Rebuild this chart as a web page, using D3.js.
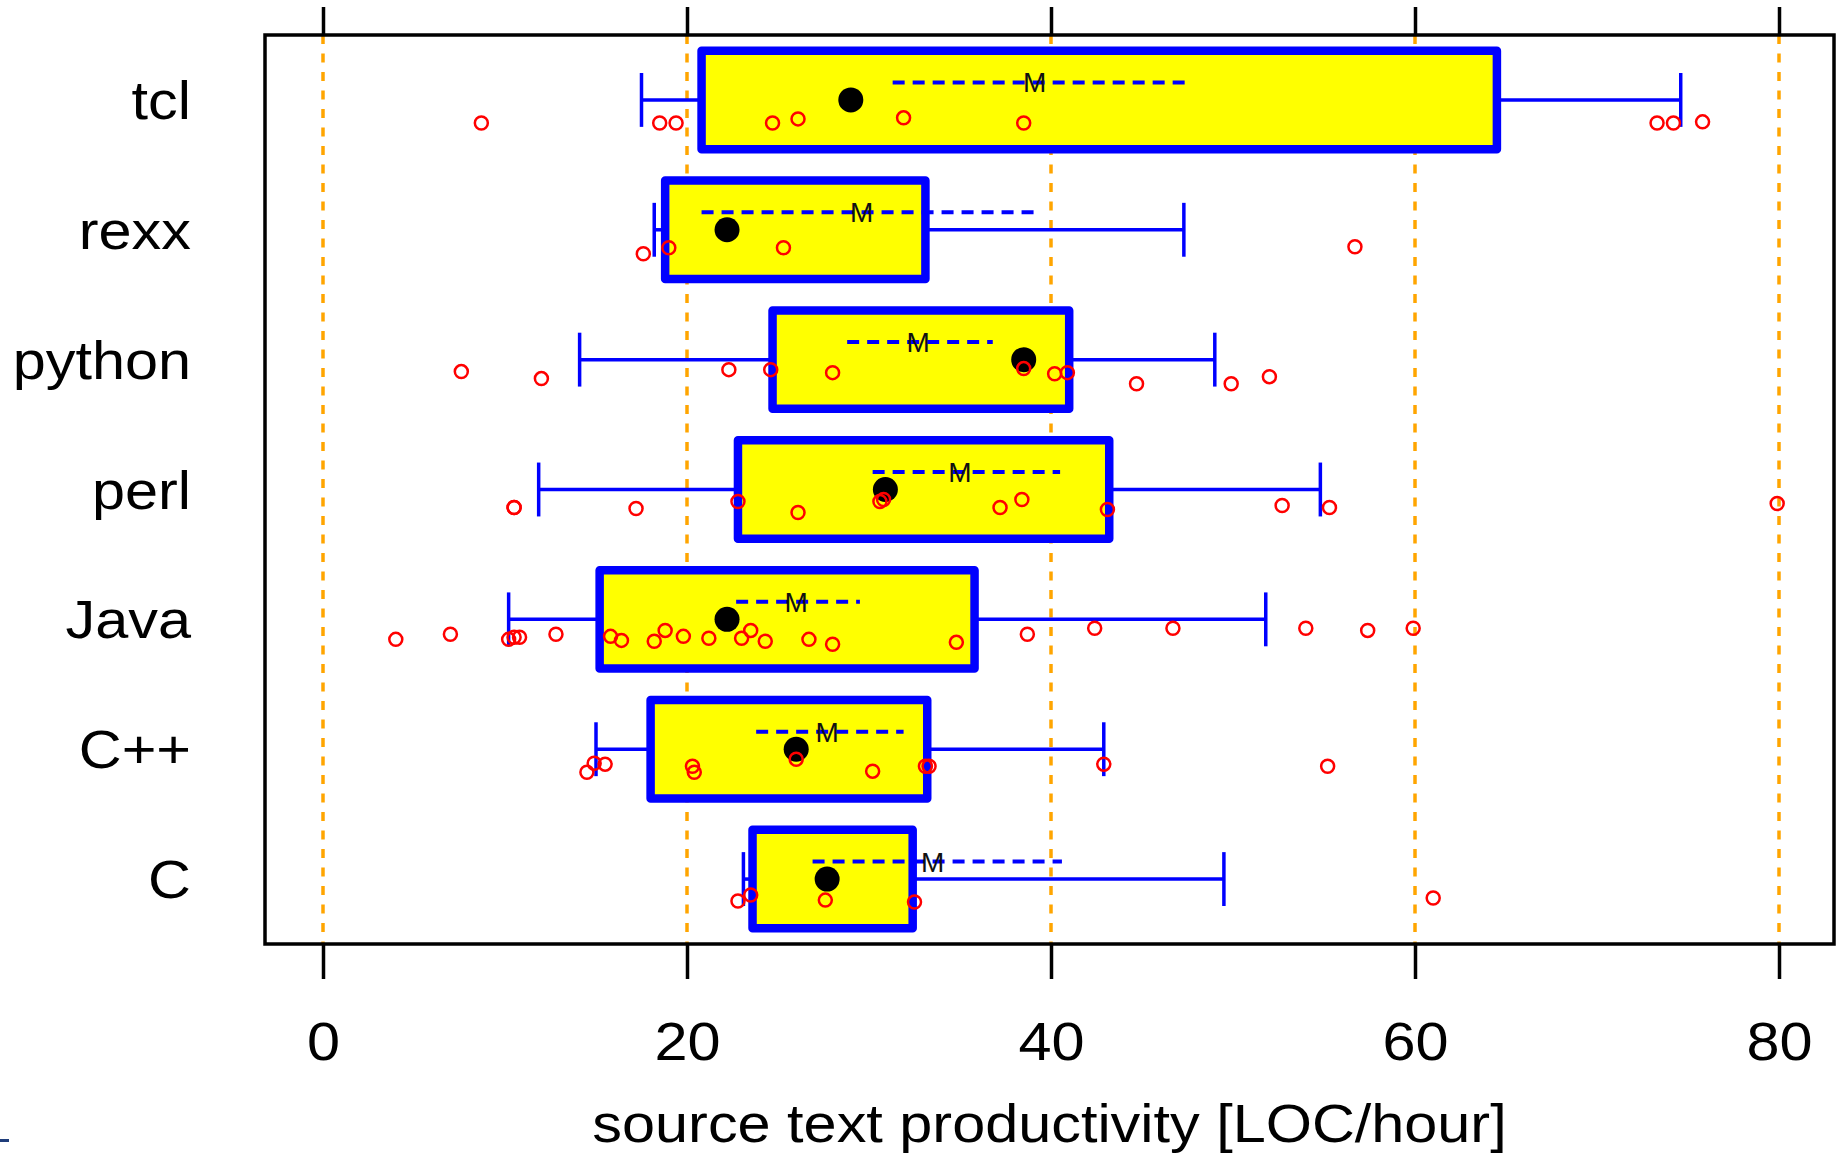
<!DOCTYPE html>
<html>
<head>
<meta charset="utf-8">
<script src="https://cdn.jsdelivr.net/npm/d3@7"></script>
<style>
    html, body { margin: 0; padding: 0; background: #fff; }
    svg { display: block; }
</style>
</head>
<body>
<svg id="chart"></svg>
<script>
/**
 * Data.
 */
const categories = ['tcl', 'rexx', 'python', 'perl', 'Java', 'C++', 'C'];

const lowerWhisker = [17.5, 18.2, 14.1, 11.85, 10.2, 15.0, 23.1];
const lowerHinge   = [20.8, 18.8, 24.7, 22.8, 15.2, 18.0, 23.6];
const medians      = [29.0, 22.2, 38.5, 30.9, 22.2, 26.0, 27.7];
const upperHinge   = [64.5, 33.1, 41.0, 43.2, 35.8, 33.2, 32.4];
const upperWhisker = [74.6, 47.3, 49.0, 54.8, 51.8, 42.9, 49.5];

// Mean ('M') and the dashed band around it
const means    = [39.1, 29.6, 32.7, 35.0, 26.0, 27.7, 33.5];
const meanLow  = [31.3, 20.8, 28.8, 30.2, 22.7, 23.8, 26.9];
const meanHigh = [47.4, 39.1, 36.8, 40.5, 29.5, 31.9, 40.6];

// Individual observations per category
const observations = [
    [8.7, 18.5, 19.4, 24.7, 26.1, 31.9, 38.5, 73.3, 74.2, 75.8],
    [17.6, 19.0, 25.3, 56.7],
    [7.6, 12.0, 22.3, 24.6, 28.0, 38.5, 40.2, 40.9, 44.7, 49.9, 52.0],
    [10.5, 10.5, 17.2, 22.8, 26.1, 30.6, 30.8, 37.2, 38.4, 43.1, 52.7, 55.3, 79.9],
    [4.0, 7.0, 10.2, 10.5, 10.8, 12.8, 15.8, 16.4, 18.2, 18.8, 19.8, 21.2, 23.0, 23.5, 24.3, 26.7,
        28.0, 34.8, 38.7, 42.4, 46.7, 54.0, 57.4, 59.9],
    [14.5, 14.9, 15.5, 20.3, 20.4, 26.0, 30.2, 33.1, 33.3, 42.9, 55.2],
    [22.8, 23.5, 27.6, 32.5, 61.0]
];

// Vertical jitter of each observation, in row units
const jitter = [
    [.177, .177, .177, .177, .146, .138, .177, .177, .177, .169],
    [.185, .138, .138, .131],
    [.092, .146, .077, .077, .1, .069, .108, .1, .185, .185, .131],
    [.138, .138, .146, .092, .177, .092, .077, .138, .077, .154, .123, .138, .108],
    [.154, .115, .154, .138, .138, .115, .131, .162, .169, .085, .131, .146, .146, .085, .169, .154,
        .192, .177, .115, .069, .069, .069, .085, .069],
    [.177, .108, .115, .131, .177, .077, .169, .131, .131, .115, .131],
    [.169, .123, .162, .177, .146]
];

const xTicks = [0, 20, 40, 60, 80];
const xTitle = 'source text productivity [LOC/hour]';

/**
 * Visual configs.
 */
const visWidth = 1836, visHeight = 1155;
const frame = { left: 265, right: 1834, top: 35, bottom: 944 };
const font = '"Liberation Sans", Arial, Helvetica, sans-serif';
const stretch = 'scale(1.1,1)'; // the original lettering is a bit wide

const svg = d3.select('#chart')
    .attr('width', visWidth)
    .attr('height', visHeight);

svg.append('rect')
    .attr('width', visWidth)
    .attr('height', visHeight)
    .attr('fill', '#fff');

/**
 * Scales.
 */
const x = d3.scaleLinear().domain([0, 80]).range([323, 1779]);
const y = d3.scaleBand().domain(categories).range([frame.top, frame.bottom]).padding(0);
const row = y.bandwidth();
const mid = c => y(c) + row / 2;

/**
 * Reference lines.
 */
svg.append('g').attr('class', 'grid')
    .selectAll('line')
    .data(xTicks)
    .join('line')
    .attr('x1', d => x(d)).attr('x2', d => x(d))
    .attr('y1', frame.top).attr('y2', frame.bottom)
    .attr('stroke', '#ffa500')
    .attr('stroke-width', 3.5)
    .attr('stroke-dasharray', '9,9.5');

/**
 * Boxes.
 */
const rows = categories.map((c, i) => ({
    name: c,
    lo: lowerWhisker[i], q1: lowerHinge[i], med: medians[i], q3: upperHinge[i], hi: upperWhisker[i],
    mean: means[i], meanLo: meanLow[i], meanHi: meanHigh[i],
    points: observations[i].map((v, j) => ({ v: v, j: jitter[i][j] }))
}));

const boxH = row * 0.758, capH = row * 0.415, meanOffset = -row * 0.135;

const items = svg.append('g').attr('class', 'items')
    .selectAll('g')
    .data(rows)
    .join('g')
    .attr('transform', d => 'translate(0,' + mid(d.name) + ')');

// Whiskers
items.append('line')
    .attr('x1', d => x(d.lo)).attr('x2', d => x(d.q1))
    .attr('stroke', '#0000ff').attr('stroke-width', 3.5);
items.append('line')
    .attr('x1', d => x(d.q3)).attr('x2', d => x(d.hi))
    .attr('stroke', '#0000ff').attr('stroke-width', 3.5);
items.append('line')
    .attr('x1', d => x(d.lo)).attr('x2', d => x(d.lo))
    .attr('y1', -capH / 2).attr('y2', capH / 2)
    .attr('stroke', '#0000ff').attr('stroke-width', 3.5);
items.append('line')
    .attr('x1', d => x(d.hi)).attr('x2', d => x(d.hi))
    .attr('y1', -capH / 2).attr('y2', capH / 2)
    .attr('stroke', '#0000ff').attr('stroke-width', 3.5);

// Hinge box
items.append('rect')
    .attr('x', d => x(d.q1))
    .attr('width', d => x(d.q3) - x(d.q1))
    .attr('y', -boxH / 2)
    .attr('height', boxH)
    .attr('fill', '#ffff00')
    .attr('stroke', '#0000ff')
    .attr('stroke-width', 8.5)
    .attr('stroke-linejoin', 'round');

// Median
items.append('circle')
    .attr('cx', d => x(d.med))
    .attr('r', 12.5)
    .attr('fill', '#000');

// Mean with dashed band
items.append('line')
    .attr('x1', d => x(d.meanLo)).attr('x2', d => x(d.meanHi))
    .attr('y1', meanOffset).attr('y2', meanOffset)
    .attr('stroke', '#0000ff')
    .attr('stroke-width', 4)
    .attr('stroke-dasharray', '12,8');
items.append('text')
    .attr('x', d => x(d.mean))
    .attr('y', meanOffset + 10)
    .attr('text-anchor', 'middle')
    .attr('font-family', font)
    .attr('font-size', 28)
    .attr('fill', '#111')
    .text('M');

// Observations
items.selectAll('circle.obs')
    .data(d => d.points)
    .join('circle')
    .attr('class', 'obs')
    .attr('cx', d => x(d.v))
    .attr('cy', d => d.j * row)
    .attr('r', 6.5)
    .attr('fill', 'none')
    .attr('stroke', '#ff0000')
    .attr('stroke-width', 2.5);

/**
 * Frame and axes.
 */
svg.append('rect')
    .attr('x', frame.left).attr('y', frame.top)
    .attr('width', frame.right - frame.left)
    .attr('height', frame.bottom - frame.top)
    .attr('fill', 'none')
    .attr('stroke', '#000')
    .attr('stroke-width', 3.5);

const topAxis = svg.append('g')
    .attr('transform', 'translate(0,' + frame.top + ')')
    .call(d3.axisTop(x).tickValues(xTicks).tickSize(28).tickFormat(''));
topAxis.select('.domain').remove();
topAxis.selectAll('line').attr('stroke', '#000').attr('stroke-width', 3.5);

const bottomAxis = svg.append('g')
    .attr('transform', 'translate(0,' + frame.bottom + ')')
    .call(d3.axisBottom(x).tickValues(xTicks).tickSize(35).tickPadding(43).tickFormat(d3.format('d')));
bottomAxis.select('.domain').remove();
bottomAxis.selectAll('line').attr('stroke', '#000').attr('stroke-width', 3.5);
bottomAxis.selectAll('text')
    .attr('font-family', font)
    .attr('font-size', 54)
    .attr('fill', '#000')
    .attr('transform', stretch);

// Category labels
svg.append('g').attr('class', 'labels')
    .selectAll('text')
    .data(categories)
    .join('text')
    .attr('transform', d => 'translate(191,' + (mid(d) + 19) + ') ' + stretch)
    .attr('text-anchor', 'end')
    .attr('font-family', font)
    .attr('font-size', 54)
    .attr('fill', '#000')
    .text(d => d);

// Axis title
svg.append('text')
    .attr('transform', 'translate(' + (frame.left + frame.right) / 2 + ',1142) ' + stretch)
    .attr('text-anchor', 'middle')
    .attr('font-family', font)
    .attr('font-size', 54)
    .attr('fill', '#000')
    .text(xTitle);

// Small mark at the lower left edge of the original
svg.append('rect')
    .attr('x', 0).attr('y', 1139)
    .attr('width', 9).attr('height', 3)
    .attr('fill', '#1f3d7a');
</script>
</body>
</html>
